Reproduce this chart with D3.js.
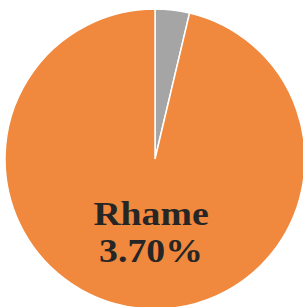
<!DOCTYPE html>
<html><head><meta charset="utf-8">
<script src="https://cdn.jsdelivr.net/npm/d3@7"></script>
<style>html,body{margin:0;padding:0;background:#fff;overflow:hidden}</style>
</head><body>
<script>
const categories = ["Other", "Rhame"];
const values = [3.70, 96.30];
const colors = ["#A5A5A5", "#F0883D"];
const labelLines = ["Rhame", "3.70%"];

const W = 303, H = 307;
const cx = 155, cy = 159, r = 150;
const svg = d3.select("body").append("svg").attr("width", W).attr("height", H);
const g = svg.append("g").attr("transform", `translate(${cx},${cy})`);
const pie = d3.pie().sort(null).value(d => d);
const arc = d3.arc().innerRadius(0).outerRadius(r);
g.selectAll("path").data(pie(values)).enter().append("path")
  .attr("d", arc)
  .attr("fill", (d, i) => colors[i])
  .attr("stroke", "#fff").attr("stroke-width", 1.5);

const t = svg.append("g").attr("transform", "translate(151,0) scale(1.11,1)")
  .append("text")
  .attr("text-anchor", "middle")
  .attr("font-family", "'Liberation Serif', serif")
  .attr("font-weight", "bold")
  .attr("font-size", 34)
  .attr("fill", "#262626");
t.append("tspan").attr("x", 0).attr("y", 225).text(labelLines[0]);
t.append("tspan").attr("x", 0).attr("y", 262).text(labelLines[1]);
</script>
</body></html>
